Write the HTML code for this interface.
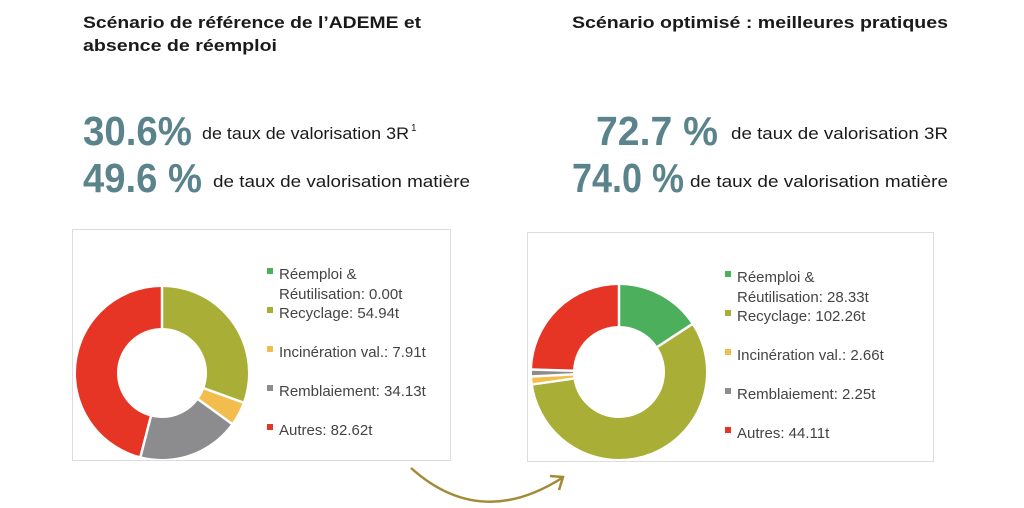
<!DOCTYPE html>
<html><head><meta charset="utf-8"><style>
html,body{margin:0;padding:0;background:#fff;}
svg{display:block;font-family:"Liberation Sans",sans-serif;}
</style></head><body>
<svg width="1024" height="508" viewBox="0 0 1024 508">
<g font-weight="bold" font-size="17" fill="#1a1a1a">
<text x="83" y="28" textLength="338" lengthAdjust="spacingAndGlyphs">Scénario de référence de l’ADEME et</text>
<text x="83" y="51" textLength="194" lengthAdjust="spacingAndGlyphs">absence de réemploi</text>
<text x="572" y="28" textLength="376" lengthAdjust="spacingAndGlyphs">Scénario optimisé : meilleures pratiques</text>
</g>
<g font-weight="bold" font-size="41" fill="#5a838c">
<text x="83" y="145" textLength="109" lengthAdjust="spacingAndGlyphs">30.6%</text>
<text x="83" y="192" textLength="119" lengthAdjust="spacingAndGlyphs">49.6 %</text>
<text x="596" y="145" textLength="122" lengthAdjust="spacingAndGlyphs">72.7 %</text>
<text x="572" y="192" textLength="112" lengthAdjust="spacingAndGlyphs">74.0 %</text>
</g>
<g font-size="17" fill="#1a1a1a">
<text x="202" y="139" textLength="207" lengthAdjust="spacingAndGlyphs">de taux de valorisation 3R</text>
<text x="411" y="131" font-size="10">1</text>
<text x="213" y="187" textLength="257" lengthAdjust="spacingAndGlyphs">de taux de valorisation matière</text>
<text x="731" y="139" textLength="217" lengthAdjust="spacingAndGlyphs">de taux de valorisation 3R</text>
<text x="690" y="187" textLength="258" lengthAdjust="spacingAndGlyphs">de taux de valorisation matière</text>
</g>
<rect x="72.5" y="229.5" width="378" height="231" fill="#fff" stroke="#dcdcdc"/>
<rect x="527.5" y="232.5" width="406" height="229" fill="#fff" stroke="#dcdcdc"/>
<g fill="none" stroke-width="41" transform="rotate(-90 162 373)">
<circle cx="162" cy="373" r="65.5" stroke="#a9ae37" stroke-dasharray="125.7 411.5" stroke-dashoffset="0"/>
<circle cx="162" cy="373" r="65.5" stroke="#f3bd4e" stroke-dasharray="18.2 411.5" stroke-dashoffset="-125.7"/>
<circle cx="162" cy="373" r="65.5" stroke="#8c8c8e" stroke-dasharray="78.2 411.5" stroke-dashoffset="-144"/>
<circle cx="162" cy="373" r="65.5" stroke="#e63425" stroke-dasharray="189.3 411.5" stroke-dashoffset="-222.2"/>
</g>
<g stroke="#fff" stroke-width="2.5">
<line x1="162" y1="328" x2="162" y2="285" transform="rotate(0 162 373)"/>
<line x1="162" y1="328" x2="162" y2="285" transform="rotate(110 162 373)"/>
<line x1="162" y1="328" x2="162" y2="285" transform="rotate(126 162 373)"/>
<line x1="162" y1="328" x2="162" y2="285" transform="rotate(194.4 162 373)"/>
</g>
<g fill="none" stroke-width="41" transform="rotate(-90 619 372)">
<circle cx="619" cy="372" r="66.5" stroke="#4caf5c" stroke-dasharray="65.9 417.8" stroke-dashoffset="0"/>
<circle cx="619" cy="372" r="66.5" stroke="#a9ae37" stroke-dasharray="237.9 417.8" stroke-dashoffset="-65.9"/>
<circle cx="619" cy="372" r="66.5" stroke="#f3bd4e" stroke-dasharray="6.2 417.8" stroke-dashoffset="-303.8"/>
<circle cx="619" cy="372" r="66.5" stroke="#8c8c8e" stroke-dasharray="5.2 417.8" stroke-dashoffset="-310"/>
<circle cx="619" cy="372" r="66.5" stroke="#e63425" stroke-dasharray="102.6 417.8" stroke-dashoffset="-315.2"/>
</g>
<g stroke="#fff" stroke-width="2.5">
<line x1="619" y1="326" x2="619" y2="284" transform="rotate(0 619 372)"/>
<line x1="619" y1="326" x2="619" y2="284" transform="rotate(56.8 619 372)"/>
<line x1="619" y1="326" x2="619" y2="284" transform="rotate(261.8 619 372)"/>
<line x1="619" y1="326" x2="619" y2="284" transform="rotate(267.1 619 372)"/>
<line x1="619" y1="326" x2="619" y2="284" transform="rotate(271.6 619 372)"/>
</g>
<g font-size="15" fill="#444">
<rect x="267" y="268" width="6" height="6" fill="#4caf5c"/>
<text x="279" y="279">Réemploi &amp;</text>
<text x="279" y="299">Réutilisation: 0.00t</text>
<rect x="267" y="307" width="6" height="6" fill="#a9ae37"/>
<text x="279" y="318">Recyclage: 54.94t</text>
<rect x="267" y="346" width="6" height="6" fill="#f3bd4e"/>
<text x="279" y="357">Incinération val.: 7.91t</text>
<rect x="267" y="385" width="6" height="6" fill="#8c8c8e"/>
<text x="279" y="396">Remblaiement: 34.13t</text>
<rect x="267" y="424" width="6" height="6" fill="#e63425"/>
<text x="279" y="435">Autres: 82.62t</text>

<rect x="725" y="271" width="6" height="6" fill="#4caf5c"/>
<text x="737" y="282">Réemploi &amp;</text>
<text x="737" y="302">Réutilisation: 28.33t</text>
<rect x="725" y="310" width="6" height="6" fill="#a9ae37"/>
<text x="737" y="321">Recyclage: 102.26t</text>
<rect x="725" y="349" width="6" height="6" fill="#f3bd4e"/>
<text x="737" y="360">Incinération val.: 2.66t</text>
<rect x="725" y="388" width="6" height="6" fill="#8c8c8e"/>
<text x="737" y="399">Remblaiement: 2.25t</text>
<rect x="725" y="427" width="6" height="6" fill="#e63425"/>
<text x="737" y="438">Autres: 44.11t</text>
</g>
<path d="M411 468 Q480 530 562 478" fill="none" stroke="#a38b36" stroke-width="2.5"/>
<path d="M550 476 L563 477 L559 490" fill="none" stroke="#a38b36" stroke-width="2.5"/>
</svg>
</body></html>
